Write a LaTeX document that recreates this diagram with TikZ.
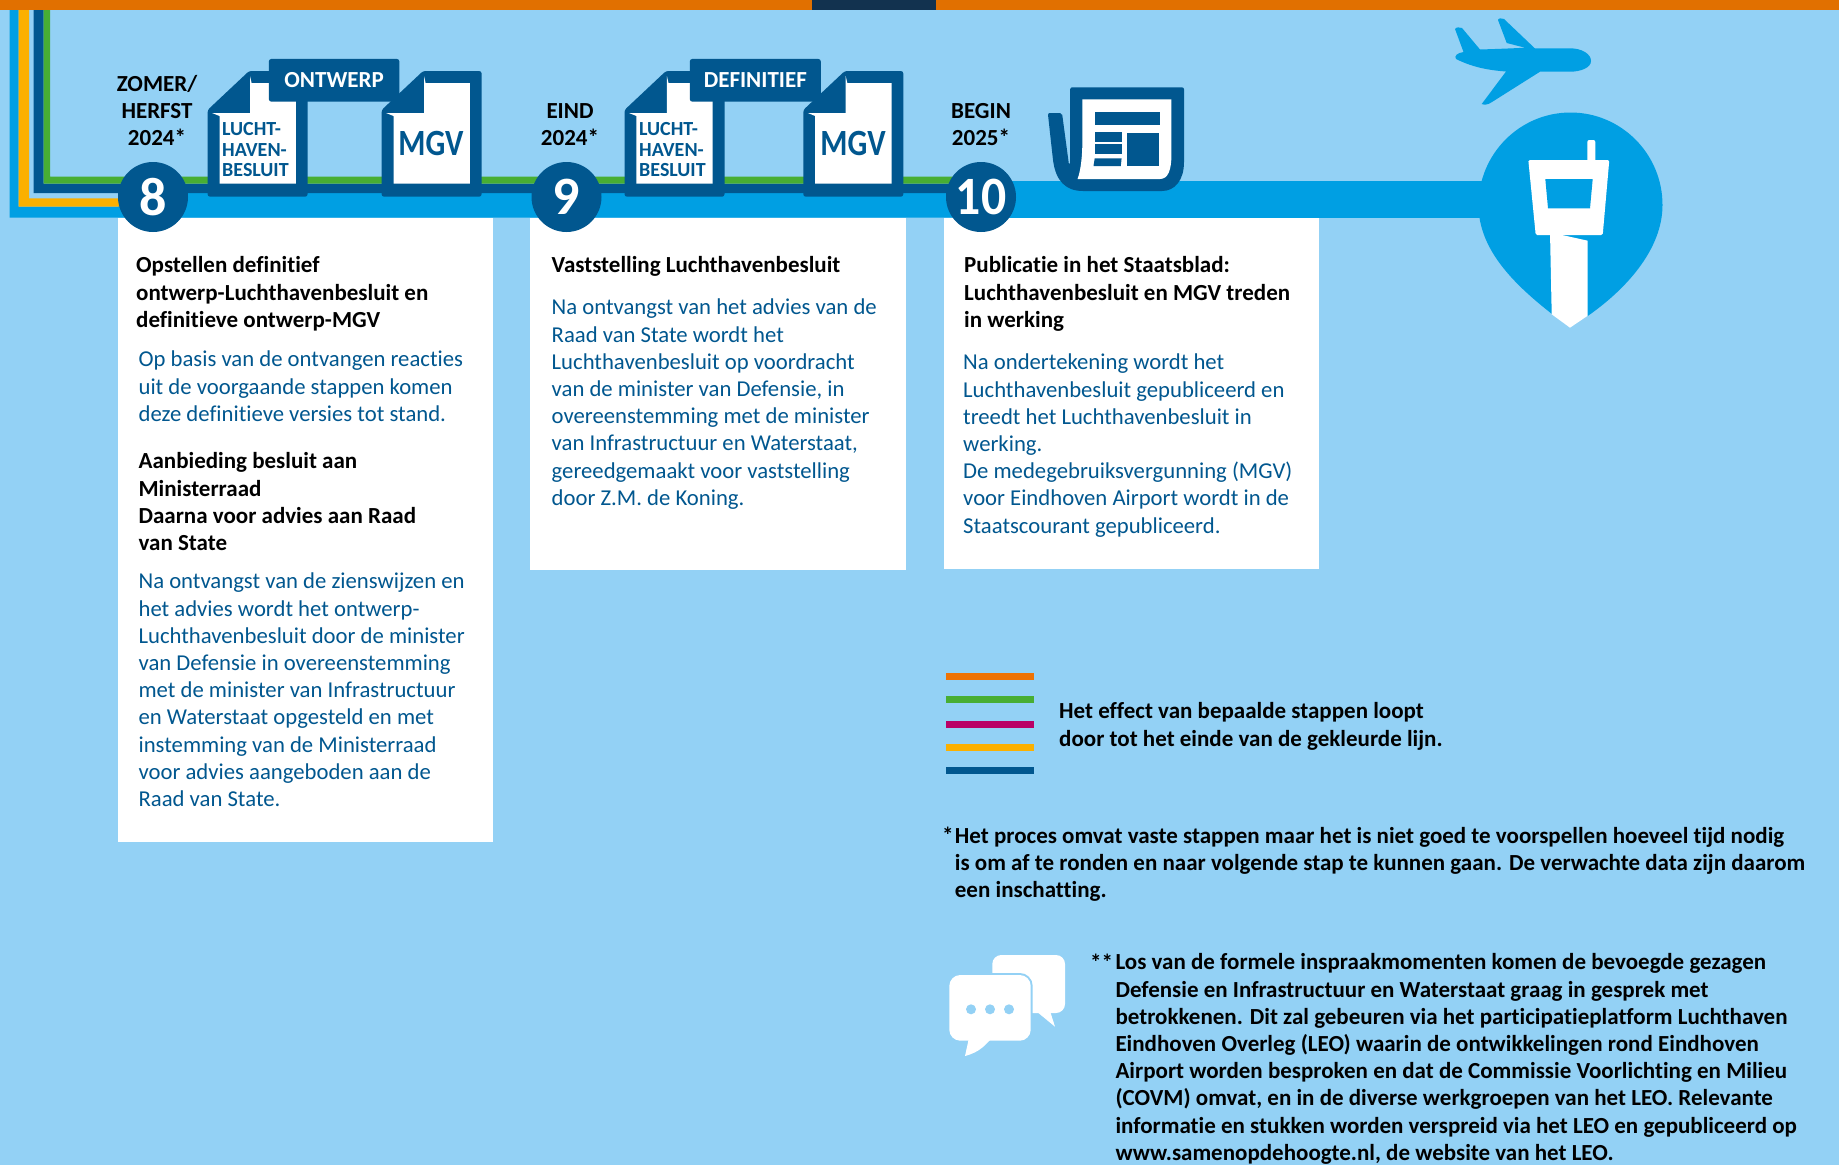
\documentclass[tikz,border=0pt]{standalone}
\usepackage{fontspec}
\setmainfont[RawFeature=-liga]{Carlito}
\definecolor{bgc}{HTML}{93D1F5}
\definecolor{lblue}{HTML}{009FE3}
\definecolor{dblue}{HTML}{01578F}
\definecolor{gline}{HTML}{48AE33}
\definecolor{yline}{HTML}{FBB000}
\definecolor{obar}{HTML}{E17000}
\definecolor{oline}{HTML}{EE7203}
\definecolor{mline}{HTML}{B90066}
\definecolor{navy}{HTML}{12324F}
\newcommand{\fs}[2]{\fontsize{#1}{#2}\selectfont}
\tikzset{
  x=1pt,y=-1pt,
  txt/.style={inner sep=0pt,anchor=north west,align=left,font=\fs{22.7}{27.2}},
  body/.style={txt,text=dblue},
  head/.style={txt,text=black,font=\fs{23}{27.2}\bfseries},
  note/.style={txt,text=black,font=\fs{23}{27.2}\bfseries},
  datel/.style={inner sep=0pt,anchor=north,align=center,text=black,font=\fs{23}{27}\bfseries},
  num/.style={circle,fill=dblue,minimum size=70pt,inner sep=0pt,text=white,font=\fs{54}{54}\bfseries},
  tag/.style={fill=dblue,rounded corners=2.5pt,text=white,inner sep=0pt,font=\fs{23}{27}\bfseries},
  doclab/.style={inner sep=0pt,anchor=north west,align=left,text=dblue,font=\fs{20}{20.3}\bfseries},
  mgvlab/.style={inner sep=0pt,text=dblue,font=\fs{37}{37}\bfseries},
}
\newcommand{\docicon}[1]{%
  \fill[dblue,rounded corners=2.5pt] (#1+0,110) -- (#1+41.5,71) -- (#1+100,71) -- (#1+100,196.7) -- (#1+0,196.7) -- cycle;
  \fill[white] (#1+42.4,76) -- (#1+44,83) -- (#1+88.2,83) -- (#1+88.2,183.7) -- (#1+11.9,183.7) -- (#1+11.9,116) -- (#1+4.5,113) -- (#1+42.4,113) -- cycle;
}
\begin{document}
\begin{tikzpicture}
\useasboundingbox (0,0) rectangle (1839,1165);
\fill[bgc] (0,0) rectangle (1839,1165);
% top bar
\fill[obar] (0,0) rectangle (1839,10);
\fill[navy] (812,0) rectangle (936,10);
% timeline
\fill[lblue] (9.5,10) -- (18.6,10) -- (18.6,206.7) -- (118,206.7) -- (118,193) -- (1500,193) -- (1500,217.7) -- (9.5,217.7) -- cycle;
\fill[lblue] (981,181) rectangle (1500,217.7);
\fill[yline] (18.6,10) -- (29,10) -- (29,198.3) -- (125,198.3) -- (125,206.7) -- (18.6,206.7) -- cycle;
\fill[dblue] (33.6,10) -- (43.5,10) -- (43.5,183.7) -- (960,183.7) -- (960,193) -- (33.6,193) -- cycle;
\fill[gline] (43.5,10) -- (50,10) -- (50,176.7) -- (960,176.7) -- (960,183.7) -- (43.5,183.7) -- cycle;
% white boxes
\fill[white] (118,217.7) rectangle (493,842);
\fill[white] (530,217.7) rectangle (905.5,570);
\fill[white] (944,217.7) rectangle (1319,569);
% documents
\docicon{207.6}
\docicon{381.6}
\docicon{624.5}
\docicon{803.3}
\node[tag,minimum width=130.5pt,minimum height=42.7pt] (tag1) at (334.1,80.3) {\raisebox{-7.6pt}[0pt][0pt]{ONTWERP}};
\node[tag,minimum width=131pt,minimum height=42.7pt] (tag2) at (755.3,80.3) {\raisebox{-7.6pt}[0pt][0pt]{DEFINITIEF}};
\node[doclab] (d1) at (222,122.5) {LUCHT-\\HAVEN-\\BESLUIT};
\node[doclab] (d3) at (639,122.5) {LUCHT-\\HAVEN-\\BESLUIT};
\node[mgvlab] (m1) at (431,143) {\scalebox{0.84}[1]{MGV}};
\node[mgvlab] (m2) at (853,143) {\scalebox{0.84}[1]{MGV}};
% numbers
\node[num] (n8) at (153,197) {8};
\node[num] (n9) at (566.5,197) {9};
\node[num] (n10) at (981,197) {\scalebox{0.92}[1]{10}};
% dates
\node[datel] (dt8) at (157,75) {ZOMER/\\HERFST\\2024*};
\node[datel] (dt9) at (570,103) {EIND\\2024*};
\node[datel] (dt10) at (981,103) {BEGIN\\2025*};
% newspaper
\fill[dblue,rounded corners=2pt] (1047.8,113) -- (1062,113) -- (1069,165) -- (1070.2,165) -- (1070.2,87.3) -- (1184,87.3) -- (1184,160)
   .. controls (1184,180) and (1175,191) .. (1160,191) -- (1085,191) .. controls (1065,191) and (1056,180) .. (1053,160) -- cycle;
\fill[white] (1082.4,99.3) -- (1171.4,99.3) -- (1171.4,155) .. controls (1171.4,170) and (1168,179) .. (1160,179) -- (1077.5,179) .. controls (1081,170) and (1082.4,155) .. (1082.4,140) -- cycle;
\fill[dblue] (1094.7,111.7) rectangle (1159.6,125.3);
\fill[dblue] (1094.7,132.3) rectangle (1121.6,141.7);
\fill[dblue] (1094.7,144.3) rectangle (1121.6,153.7);
\fill[dblue] (1094.7,158.3) -- (1121.6,158.3) -- (1120.8,166) -- (1093.5,166) -- cycle;
\fill[dblue] (1127.3,133) rectangle (1159.2,166);
% plane
\fill[lblue] (1591,61) .. controls (1591,68) and (1580,71.7) .. (1570,71.7) -- (1540,71.7) -- (1492,102) .. controls (1488,105) and (1484,105) .. (1481.7,104) -- (1506,71.5) .. controls (1485,70) and (1470,66) .. (1456,59) .. controls (1454,56) and (1457,53) .. (1463.5,52) -- (1455,29) .. controls (1456,27) and (1460,27) .. (1462,28) -- (1480,49.5) .. controls (1495,49) and (1510,48.5) .. (1525,47.7) -- (1506.7,43) -- (1498,20) .. controls (1498,18) and (1502,18) .. (1504,19) -- (1535,48.5) -- (1570,48.3) .. controls (1582,48.3) and (1591,54) .. (1591,61) -- cycle;
% pin
\fill[lblue] (1478.5,205) .. controls (1478.5,154) and (1519.7,112.5) .. (1570.5,112.5) .. controls (1621.3,112.5) and (1662.5,154) .. (1662.5,205) .. controls (1662.5,250) and (1625,290) .. (1587.7,316) -- (1552,314) .. controls (1515,285) and (1478.5,250) .. (1478.5,205) -- cycle;
\fill[white,rounded corners=1.5pt] (1528.3,160) -- (1609.3,160) -- (1602.7,235) -- (1535.7,235) -- cycle;
\fill[white,rounded corners=2pt] (1587.3,165) -- (1587.3,140) -- (1595.3,140) -- (1595.3,165) -- cycle;
\fill[lblue] (1545.3,179) -- (1592.7,179) -- (1590,208.3) -- (1548,208.3) -- cycle;
\fill[white] (1550,232) -- (1562,235) -- (1587.7,240.7) -- (1587.7,315.7) -- (1570,327.7) -- (1551.7,314.3) -- cycle;
% legend
\fill[oline] (945.7,673.3) rectangle (1033.7,680.3);
\fill[gline] (945.7,696.3) rectangle (1033.7,703.3);
\fill[mline] (945.7,720.7) rectangle (1033.7,727.7);
\fill[yline] (945.7,744) rectangle (1033.7,751);
\fill[dblue] (945.7,767) rectangle (1033.7,774);
% chat icon
\fill[white,rounded corners=9pt] (992.3,955) -- (1065,955) -- (1065,1013) -- (992.3,1013) -- cycle;
\fill[white,line join=round] (1036,1011) -- (1055,1026.7) -- (1050,1011) -- cycle;
\draw[bgc,line width=4pt,rounded corners=11pt] (949.3,975) -- (1030.7,975) -- (1030.7,1040.7) -- (949.3,1040.7) -- cycle;
\fill[white,rounded corners=11pt] (949.3,975) -- (1030.7,975) -- (1030.7,1040.7) -- (949.3,1040.7) -- cycle;
\fill[white,line join=round] (970.7,1030) -- (965,1056) .. controls (980,1052) and (985,1045) .. (990,1040) -- cycle;
\fill[bgc] (971,1009.3) circle[radius=5];
\fill[bgc] (990,1009.3) circle[radius=5];
\fill[bgc] (1009,1009.3) circle[radius=5];
% texts
\node[head] (t81) at (136,256.5) {Opstellen definitief\\ontwerp-Luchthavenbesluit en\\definitieve ontwerp-MGV};
\node[body] (t82) at (138.4,351) {Op basis van de ontvangen reacties\\uit de voorgaande stappen komen\\deze definitieve versies tot stand.};
\node[head] (t83) at (138.4,452.5) {Aanbieding besluit aan\\Ministerraad\\Daarna voor advies aan Raad\\van State};
\node[body] (t84) at (138.4,573) {Na ontvangst van de zienswijzen en\\het advies wordt het ontwerp-\\Luchthavenbesluit door de minister\\van Defensie in overeenstemming\\met de minister van Infrastructuur\\en Waterstaat opgesteld en met\\instemming van de Ministerraad\\voor advies aangeboden aan de\\Raad van State.};
\node[head] (t91) at (551.5,256.5) {Vaststelling Luchthavenbesluit};
\node[body] (t92) at (551.5,299) {Na ontvangst van het advies van de\\Raad van State wordt het\\Luchthavenbesluit op voordracht\\van de minister van Defensie, in\\overeenstemming met de minister\\van Infrastructuur en Waterstaat,\\gereedgemaakt voor vaststelling\\door Z.M. de Koning.};
\node[head] (t101) at (964,256.5) {Publicatie in het Staatsblad:\\Luchthavenbesluit en MGV treden\\in werking};
\node[body] (t102) at (963,354) {Na ondertekening wordt het\\Luchthavenbesluit gepubliceerd en\\treedt het Luchthavenbesluit in\\werking.\\De medegebruiksvergunning (MGV)\\voor Eindhoven Airport wordt in de\\Staatscourant gepubliceerd.};
\node[note] (leg) at (1059,702.5) {Het effect van bepaalde stappen loopt\\door tot het einde van de gekleurde lijn.};
\node[note] (s1) at (942,827) {*};
\node[note] (f1) at (954.7,827) {Het proces omvat vaste stappen maar het is niet goed te voorspellen hoeveel tijd nodig\\is om af te ronden en naar volgende stap te kunnen gaan. De verwachte data zijn daarom\\een inschatting.};
\node[note] (s2) at (1090,953.5) {**};
\node[note] (f2) at (1115.3,953.5) {Los van de formele inspraakmomenten komen de bevoegde gezagen\\Defensie en Infrastructuur en Waterstaat graag in gesprek met\\betrokkenen. Dit zal gebeuren via het participatieplatform Luchthaven\\Eindhoven Overleg (LEO) waarin de ontwikkelingen rond Eindhoven\\Airport worden besproken en dat de Commissie Voorlichting en Milieu\\(COVM) omvat, en in de diverse werkgroepen van het LEO. Relevante\\informatie en stukken worden verspreid via het LEO en gepubliceerd op\\www.samenopdehoogte.nl, de website van het LEO.};
\end{tikzpicture}
\end{document}
